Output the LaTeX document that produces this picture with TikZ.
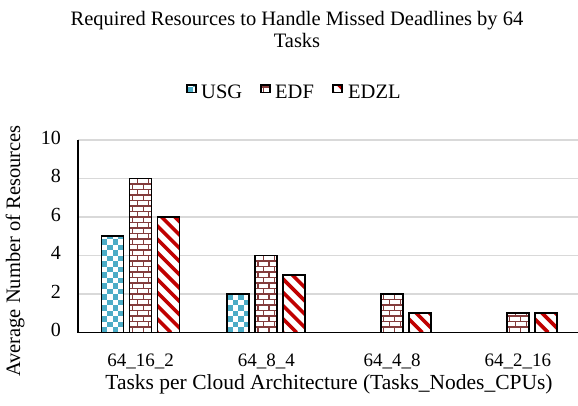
\documentclass[tikz,border=0pt]{standalone}
\usepackage{fontspec}
\setmainfont{Liberation Serif}
\definecolor{usgblue}{HTML}{4BACC6}
\definecolor{brickred}{HTML}{843C3C}
\definecolor{edzlred}{HTML}{C00000}
\definecolor{gridgray}{HTML}{D9D9D9}

% geometry of the plot (1 unit = 1pt)
\def\base{72.5}
\def\unit{19.25}
\def\barw{22}

\tikzset{
  barframe/.style={draw=black, line width=1.8pt},
  gridline/.style={draw=gridgray, line width=1.4pt},
  axisline/.style={draw=black, line width=1.8pt},
  label/.style={font=\fontsize{20.5}{24}\selectfont, inner sep=0pt},
  axistitle/.style={font=\fontsize{21.5}{24}\selectfont, inner sep=0pt},
  ticklabel/.style={font=\fontsize{20}{24}\selectfont, inner sep=0pt},
  catlabel/.style={font=\fontsize{19}{24}\selectfont, inner sep=0pt, anchor=base},
  legendbox/.style={draw=black, line width=1.5pt},
}

% checkerboard filled bar: left x, bottom y, width, height
\newcommand\checkfill[4]{%
  \begin{scope}
    \clip (#1,#2) rectangle ++(#3,#4);
    \fill[white] (#1,#2) rectangle ++(#3,#4);
    \foreach \j in {0,...,30}{%
      \pgfmathtruncatemacro\o{mod(\j,2)}%
      \foreach \i in {0,2,4}{%
        \fill[usgblue] ({#1+(\i+\o)*5.5},{#2+\j*5.5}) rectangle ++(5.5,5.5);
      }%
    }%
  \end{scope}%
}
% brick filled bar
\newcommand\brickfill[4]{%
  \begin{scope}
    \clip (#1,#2) rectangle ++(#3,#4);
    \fill[white] (#1,#2) rectangle ++(#3,#4);
    \foreach \j in {0,...,30}{%
      \pgfmathtruncatemacro\o{mod(\j,2)}%
      \draw[brickred, line width=1.2pt] (#1,{#2+\j*5.5}) -- ++(#3,0);
      \foreach \k in {-1,0,1,2}{%
        \draw[brickred, line width=1.2pt] ({#1+\o*5.5+\k*11+2.75},{#2+\j*5.5}) -- ++(0,5.5);
      }%
    }%
  \end{scope}%
}
% diagonal striped bar
\newcommand\stripefill[4]{%
  \begin{scope}
    \clip (#1,#2) rectangle ++(#3,#4);
    \fill[white] (#1,#2) rectangle ++(#3,#4);
    \foreach \k in {-2,...,20}{%
      \draw[edzlred, line width=3.6pt] ({#1+\k*13.3},#2) -- ++(-260,260);
    }%
  \end{scope}%
}

\begin{document}
\begin{tikzpicture}[x=1pt,y=1pt]
\useasboundingbox (0,0) rectangle (578,405);

% horizontal grid
\foreach \v in {2,4,6,8,10}
  \draw[gridline] (78,{\base+\v*\unit}) -- (578,{\base+\v*\unit});

% tick labels
\foreach \v in {0,2,4,6,8,10}
  \node[ticklabel, anchor=east] (tick\v) at (61,{\base+\v*\unit+2.5}) {\v};

% bars: USG, EDF, EDZL per group
\foreach \u/\e/\z [count=\n from 0] in {5/8/6, 2/4/3, 0/2/1, 0/1/1}{%
  \pgfmathsetmacro\cx{140.5+125.8*\n}%
  \ifnum\u>0
    \checkfill{\cx-28-11}{\base}{\barw}{\u*\unit}
    \draw[barframe] ({\cx-28-11},\base) rectangle ++(\barw,{\u*\unit});
  \fi
  \brickfill{\cx-11}{\base}{\barw}{\e*\unit}
  \draw[barframe] ({\cx-11},\base) rectangle ++(\barw,{\e*\unit});
  \stripefill{\cx+28-11}{\base}{\barw}{\z*\unit}
  \draw[barframe] ({\cx+28-11},\base) rectangle ++(\barw,{\z*\unit});
}

% axes
\draw[axisline] (78,{\base+10*\unit}) -- (78,\base) -- (578,\base);

% category labels
\node[catlabel] (c1) at (140.5,38.5) {64\_16\_2};
\node[catlabel] (c2) at (266.3,38.5) {64\_8\_4};
\node[catlabel] (c3) at (392.1,38.5) {64\_4\_8};
\node[catlabel] (c4) at (517.9,38.5) {64\_2\_16};

% axis titles
\node[axistitle, anchor=base] (xtitle) at (329,16) {Tasks per Cloud Architecture (Tasks\_Nodes\_CPUs)};
\node[label, rotate=90] (ytitle) at (15,154) {Average Number of Resources};

% chart title
\node[label, anchor=base] (title1) at (297,379) {Required Resources to Handle Missed Deadlines by 64};
\node[label, anchor=base] (title2) at (297,357) {Tasks};

% legend
\checkfill{187}{312.5}{9}{7.5}
\draw[legendbox] (187,312.5) rectangle ++(9,7.5);
\node[label, anchor=base west] (lg1) at (201,306.5) {USG};
\brickfill{261}{312.5}{9}{7.5}
\draw[legendbox] (261,312.5) rectangle ++(9,7.5);
\node[label, anchor=base west] (lg2) at (275,306.5) {EDF};
\stripefill{333}{312.5}{9}{7.5}
\draw[legendbox] (333,312.5) rectangle ++(9,7.5);
\node[label, anchor=base west] (lg3) at (348,306.5) {EDZL};
\end{tikzpicture}
\end{document}
